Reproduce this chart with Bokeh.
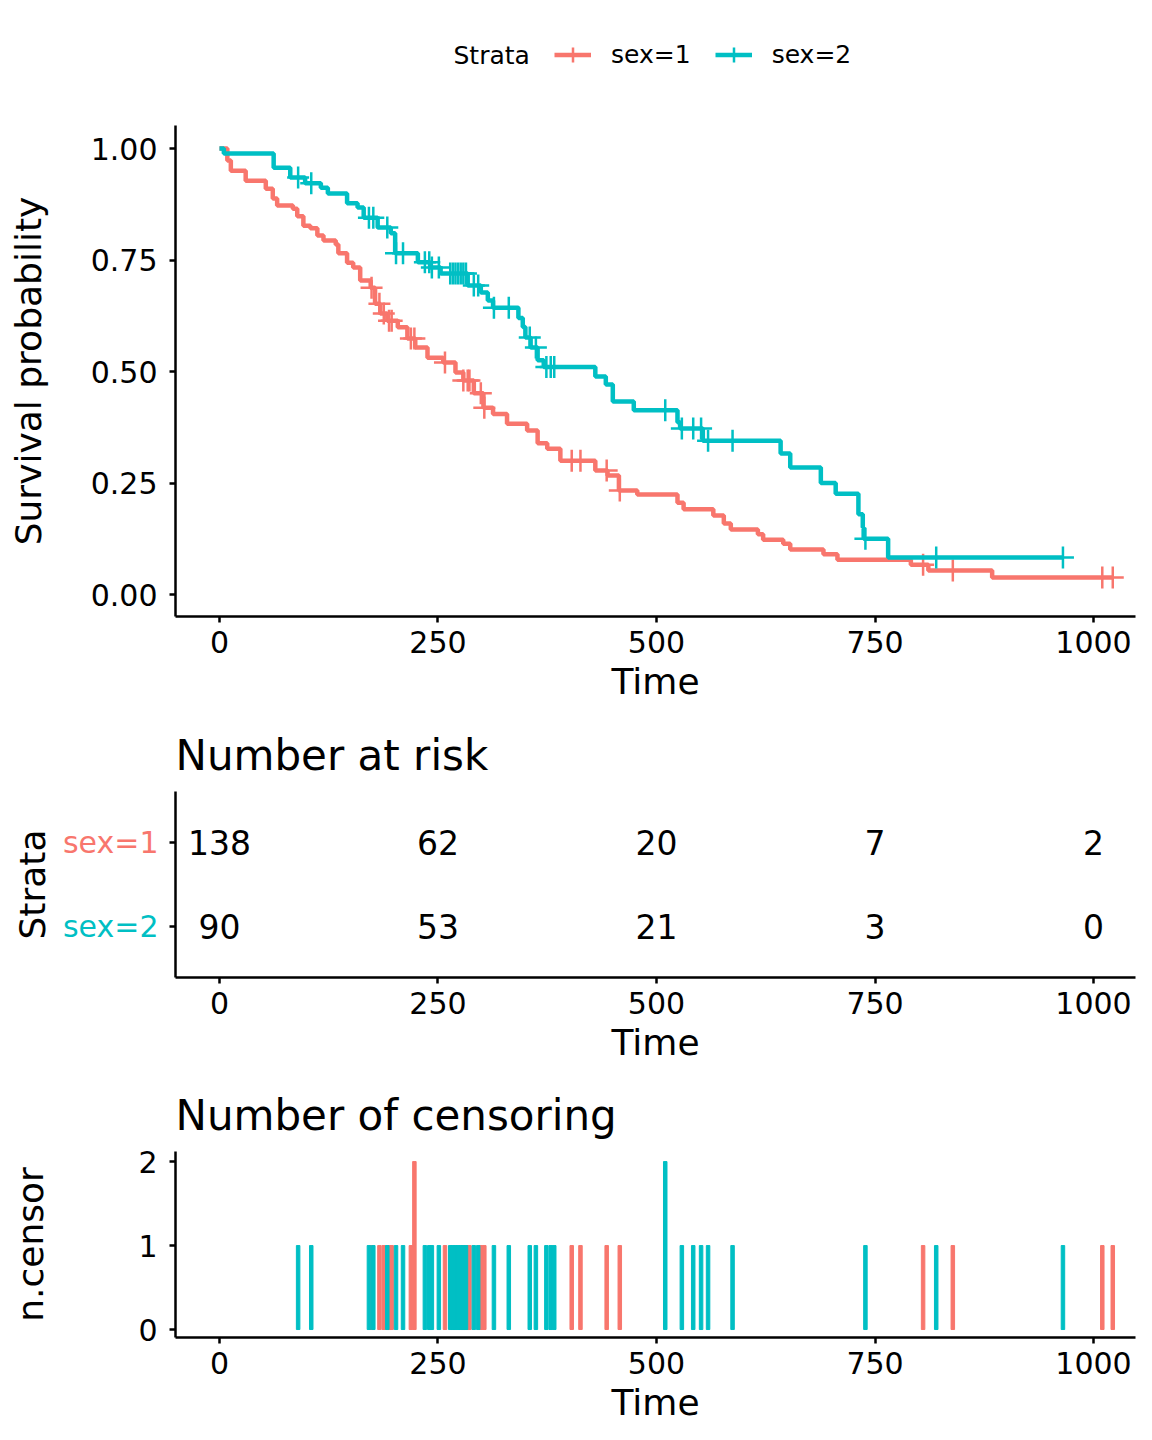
import numpy as np
from bokeh.plotting import figure
from bokeh.layouts import column, row
from bokeh.models import (Range1d, FixedTicker, NumeralTickFormatter, Legend,
                          LegendItem, ColumnDataSource)
from bokeh.core.properties import value
from bokeh.embed import file_html
from bokeh.resources import INLINE

FONT = "DejaVu Sans"
RED = "#F8766D"
TEAL = "#00BFC4"

# ---- data ----
strata = ["sex=1", "sex=2"]

# Kaplan-Meier steps (time of drop, survival after drop)
red_time = [9, 13, 30, 53, 61, 66, 84, 89, 96, 104, 112, 119, 133, 136, 146,
            153, 161, 173, 178, 184, 192, 204, 215, 224, 238, 256, 270, 279,
            291, 302, 313, 329, 352, 364, 375, 390, 430, 444, 457, 478, 524,
            531, 565, 577, 585, 616, 622, 645, 653, 691, 707, 791, 811, 884]
red_surv = [0.973, 0.95, 0.928, 0.91, 0.888, 0.872, 0.865, 0.848, 0.827, 0.821,
            0.805, 0.794, 0.785, 0.765, 0.744, 0.733, 0.704, 0.688, 0.652, 0.630,
            0.614, 0.599, 0.574, 0.554, 0.531, 0.520, 0.498, 0.480, 0.451, 0.419,
            0.405, 0.383, 0.368, 0.339, 0.327, 0.300, 0.278, 0.267, 0.233, 0.224,
            0.206, 0.191, 0.177, 0.159, 0.146, 0.135, 0.123, 0.114, 0.101, 0.090,
            0.078, 0.067, 0.054, 0.038]
red_end = 1022

teal_time = [5, 62, 81, 98, 116, 124, 146, 158, 165, 181, 196, 201, 227, 241,
             253, 284, 299, 307, 313, 342, 347, 350, 356, 364, 371, 430, 442,
             450, 474, 524, 527, 553, 642, 653, 688, 705, 731, 736, 737, 765]
teal_surv = [0.989, 0.957, 0.935, 0.922, 0.912, 0.899, 0.877, 0.868, 0.845, 0.823,
             0.81, 0.765, 0.745, 0.733, 0.72, 0.693, 0.677, 0.659, 0.643, 0.62,
             0.60, 0.576, 0.554, 0.525, 0.51, 0.489, 0.471, 0.433, 0.413, 0.386,
             0.372, 0.345, 0.316, 0.285, 0.25, 0.226, 0.18, 0.15, 0.125, 0.083]
teal_end = 965

# censoring times and counts
red_cens_time = [174, 183, 188, 194, 197, 219, 223, 258, 279, 284, 286, 299, 303,
                 403, 413, 443, 458, 805, 839, 1010, 1022]
red_cens_n = [1, 1, 1, 1, 1, 1, 2, 1, 1, 1, 1, 1, 1, 1, 1, 1, 1, 1, 1, 1, 1]
teal_cens_time = [90, 105, 171, 176, 192, 202, 210, 235, 240, 243, 251, 264, 267,
                  270, 273, 276, 279, 282, 291, 296, 314, 331, 355, 362, 374, 379,
                  383, 510, 529, 542, 551, 559, 587, 739, 820, 965]
teal_cens_n = [1] * 27 + [2] + [1] * 8

# number at risk
risk_time = [0, 250, 500, 750, 1000]
risk_sex1 = [138, 62, 20, 7, 2]
risk_sex2 = [90, 53, 21, 3, 0]

time_ticks = [0, 250, 500, 750, 1000]
X0, X1 = -50.3, 1048.0
W = 1152
LEFT, RIGHT = 175, 17


def surv_at(times, surv, t):
    i = np.searchsorted(times, t, side="right")
    return [1.0 if k == 0 else surv[k - 1] for k in i]


def style_axis(ax):
    ax.axis_line_width = 2.5
    ax.axis_line_color = "black"
    ax.major_tick_line_width = 2.5
    ax.major_tick_line_color = "black"
    ax.major_tick_out = 6
    ax.major_tick_in = 0
    ax.minor_tick_line_color = None
    ax.major_label_standoff = 8
    ax.major_label_text_font = FONT
    ax.major_label_text_font_size = "30px"
    ax.major_label_text_color = "black"
    ax.axis_label_text_font = FONT
    ax.axis_label_text_font_size = "36px"
    ax.axis_label_text_font_style = "normal"
    ax.axis_label_text_color = "black"


def base_fig(width, height, y_range, top, bottom, left=LEFT):
    p = figure(width=width, height=height, x_range=Range1d(X0, X1), y_range=y_range,
               min_border_left=left, min_border_right=RIGHT, min_border_top=top,
               min_border_bottom=bottom, toolbar_location=None,
               output_backend="svg")
    p.grid.visible = False
    p.outline_line_color = None
    p.xaxis.ticker = FixedTicker(ticks=time_ticks)
    p.xaxis.axis_label = "Time"
    style_axis(p.xaxis[0])
    style_axis(p.yaxis[0])
    p.yaxis.major_label_standoff = 12
    return p


def set_title(p, text):
    p.title.text = text
    p.title.text_font = FONT
    p.title.text_font_size = "42px"
    p.title.text_font_style = "normal"
    p.title.text_color = "black"
    p.title.align = "left"
    p.title.standoff = 23


# ---- legend strip (page pixels as data units) ----
lf = figure(width=W, height=100, x_range=Range1d(LEFT, W - RIGHT),
            y_range=Range1d(1000, 1100), min_border_left=LEFT,
            min_border_right=RIGHT, min_border_top=0, min_border_bottom=0,
            toolbar_location=None, output_backend="svg")
lf.axis.visible = False
lf.grid.visible = False
lf.outline_line_color = None
items = []
for name, times, surv, end, col in [(strata[0], red_time, red_surv, red_end, RED),
                                    (strata[1], teal_time, teal_surv, teal_end, TEAL)]:
    l = lf.line([0] + times + [end], [1.0] + surv + [surv[-1]],
                line_color=col, line_width=4.5)
    s = lf.scatter(times, surv, marker="cross", size=22, line_color=col,
                   line_width=2.5)
    items.append(LegendItem(label=name, renderers=[l, s]))
leg = Legend(items=items, orientation="horizontal", location=(554 - LEFT, 27),
             glyph_width=37, glyph_height=37, label_height=37, label_standoff=20,
             spacing=24, padding=0, margin=0, border_line_alpha=0,
             background_fill_alpha=0, label_text_font=FONT,
             label_text_font_size="25px", label_text_color="black")
lf.add_layout(leg)
lf.text(x=[453], y=[1100 - 55], text=["Strata"], text_font=value(FONT),
        text_font_size=value("25px"), text_baseline="middle", text_color="black")

# ---- survival curves ----
p = base_fig(W, 615, Range1d(-0.0493, 1.0516), 25, 99)
p.yaxis.ticker = FixedTicker(ticks=[0, 0.25, 0.5, 0.75, 1.0])
p.yaxis.formatter = NumeralTickFormatter(format="0.00")
p.yaxis.axis_label = "Survival probability"
p.yaxis.axis_label_standoff = 39

for times, surv, end, ct, col in [(red_time, red_surv, red_end, red_cens_time, RED),
                                  (teal_time, teal_surv, teal_end, teal_cens_time, TEAL)]:
    xs = [0] + times + [end]
    ys = [1.0] + surv + [surv[-1]]
    p.step(xs, ys, mode="after", line_color=col, line_width=4.5)
    p.scatter(ct, surv_at(times, surv, ct), marker="cross", size=22,
              line_color=col, line_width=2.5)

# ---- risk table: strata labels panel + table ----
LW = 159
RT, RB = 76, 98
risk_y = Range1d(0.4, 2.6)
rl = figure(width=LW, height=RT + 186 + RB, x_range=Range1d(0, LW), y_range=risk_y,
            min_border_left=0, min_border_right=0, min_border_top=RT,
            min_border_bottom=RB, toolbar_location=None, output_backend="svg")
rl.axis.visible = False
rl.grid.visible = False
rl.outline_line_color = None
rl.text(x=[LW - 1, LW - 1], y=[2, 1], text=strata, text_color=[RED, TEAL],
        text_font=value(FONT), text_font_size=value("30px"), text_align="right",
        text_baseline="middle")
rl.text(x=[32], y=[1.5], text=["Strata"], angle=np.pi / 2, text_font=value(FONT),
        text_font_size=value("36px"), text_align="center", text_baseline="middle",
        text_color="black")

r = base_fig(W - LW, RT + 186 + RB, risk_y, RT, RB, left=LEFT - LW)
set_title(r, "Number at risk")
r.yaxis.ticker = FixedTicker(ticks=[1, 2])
r.yaxis.major_label_overrides = {1: "", 2: ""}
r.yaxis.major_label_standoff = 0
rsrc = ColumnDataSource(dict(x=risk_time + risk_time,
                             y=[2] * len(risk_time) + [1] * len(risk_time),
                             t=[str(v) for v in risk_sex1 + risk_sex2]))
r.text(x="x", y="y", text="t", source=rsrc, text_font=value(FONT),
       text_font_size=value("33px"), text_align="center", text_baseline="middle",
       text_color="black")

# ---- censoring ----
c = base_fig(W, 76 + 186 + 88, Range1d(-0.095, 2.12), 76, 88)
set_title(c, "Number of censoring")
c.yaxis.ticker = FixedTicker(ticks=[0, 1, 2])
c.yaxis.axis_label = "n.censor"
c.yaxis.axis_label_standoff = 84
c.vbar(x=red_cens_time, top=red_cens_n, width=4, fill_color=RED, line_color=RED)
c.vbar(x=teal_cens_time, top=teal_cens_n, width=4, fill_color=TEAL, line_color=TEAL)

layout = column(lf, p, row(rl, r), c)
open("out.html", "w").write(file_html(layout, INLINE))
